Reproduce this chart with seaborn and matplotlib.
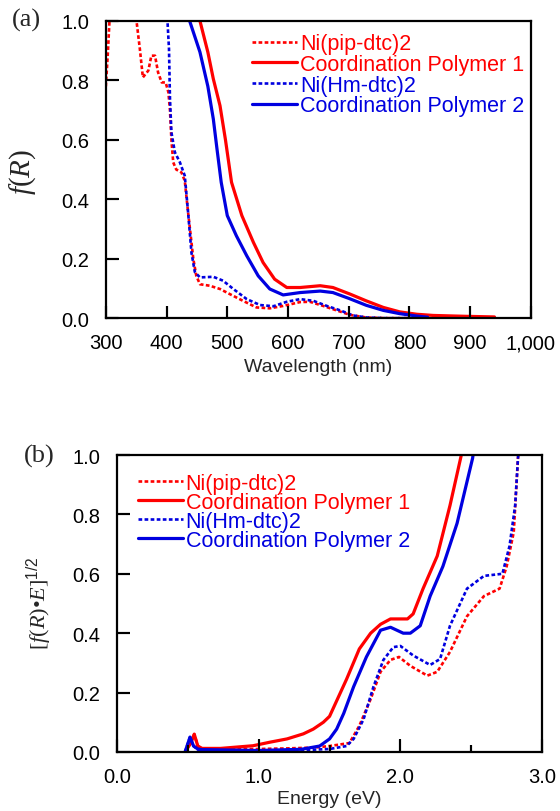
import matplotlib
matplotlib.use("Agg")
import matplotlib.pyplot as plt
from matplotlib.lines import Line2D
import seaborn as sns
import numpy as np

# ---------------- data: panel (a) ----------------
wl_pip = [300, 303, 306, 320, 340, 350.5, 356, 361, 370, 375, 381, 386, 392, 398.5, 403, 405.6, 408,
          411, 416, 424.6, 430, 435.5, 438, 444, 449, 455, 471, 488, 504, 526, 548, 570, 592, 620,
          636, 658, 680, 702, 729, 760, 800]
f_pip = [0.78, 0.88, 1.00, 1.30, 1.30, 1.00, 0.906, 0.81, 0.833, 0.883, 0.883, 0.827, 0.793, 0.793,
         0.76, 0.70, 0.60, 0.524, 0.50, 0.49, 0.462, 0.355, 0.31, 0.20, 0.142, 0.114, 0.109, 0.098,
         0.081, 0.058, 0.036, 0.033, 0.041, 0.054, 0.055, 0.041, 0.026, 0.011, 0.002, 0.0, 0.0]

wl_cp1 = [445, 455, 468, 477, 488, 497, 507, 524, 543, 559, 578, 598, 620, 653, 674, 702, 729, 757,
          784, 812, 839, 894, 940]
f_cp1 = [1.2, 1.0, 0.895, 0.805, 0.715, 0.60, 0.457, 0.345, 0.255, 0.187, 0.131, 0.103, 0.103, 0.109,
         0.103, 0.081, 0.058, 0.036, 0.021, 0.013, 0.009, 0.006, 0.004]

wl_hm = [395, 401.5, 404, 405.6, 408, 413.7, 422, 430, 435.5, 441, 446.6, 455, 477, 493, 510, 532,
         554, 576, 598, 620, 642, 664, 686, 707, 730, 760, 800]
f_hm = [1.5, 1.0, 0.906, 0.74, 0.625, 0.558, 0.524, 0.479, 0.355, 0.22, 0.155, 0.137, 0.139, 0.126,
        0.098, 0.064, 0.044, 0.04, 0.055, 0.064, 0.058, 0.041, 0.026, 0.009, 0.002, 0.0, 0.0]

wl_cp2 = [430, 438, 455, 468, 477, 483, 490, 500, 515, 532, 551, 570, 592, 620, 653, 674, 702, 729,
          757, 784, 812, 830]
f_cp2 = [1.2, 1.0, 0.895, 0.78, 0.67, 0.57, 0.457, 0.345, 0.277, 0.21, 0.142, 0.098, 0.078, 0.086,
         0.091, 0.086, 0.065, 0.043, 0.026, 0.015, 0.007, 0.003]

# ---------------- data: panel (b) ----------------
E_pip = [0.48, 0.52, 0.545, 0.57, 0.6, 0.8, 1.0, 1.2, 1.4, 1.5, 1.64, 1.71, 1.79, 1.86, 1.93, 1.99,
         2.07, 2.19, 2.26, 2.35, 2.47, 2.59, 2.70, 2.75, 2.80, 2.83, 2.85]
v_pip = [0.0, 0.03, 0.06, 0.02, 0.012, 0.01, 0.01, 0.012, 0.015, 0.02, 0.03, 0.088, 0.178, 0.27,
         0.31, 0.32, 0.29, 0.257, 0.27, 0.337, 0.457, 0.525, 0.55, 0.625, 0.74, 0.99, 1.1]

E_cp1 = [0.48, 0.52, 0.545, 0.57, 0.6, 0.73, 0.96, 1.08, 1.2, 1.315, 1.385, 1.456, 1.50, 1.62, 1.71,
         1.79, 1.86, 1.93, 2.05, 2.09, 2.16, 2.26, 2.35, 2.43, 2.46]
v_cp1 = [0.0, 0.03, 0.06, 0.02, 0.012, 0.012, 0.021, 0.033, 0.044, 0.061, 0.077, 0.10, 0.12, 0.245,
         0.347, 0.40, 0.43, 0.448, 0.448, 0.465, 0.55, 0.66, 0.83, 1.0, 1.1]

E_hm = [0.48, 0.515, 0.54, 0.57, 0.6, 1.0, 1.3, 1.5, 1.62, 1.67, 1.74, 1.81, 1.88, 1.95, 2.00, 2.09,
        2.21, 2.28, 2.35, 2.47, 2.59, 2.72, 2.77, 2.81, 2.83, 2.85]
v_hm = [0.0, 0.05, 0.02, 0.008, 0.006, 0.005, 0.006, 0.01, 0.02, 0.044, 0.11, 0.22, 0.31, 0.353,
        0.357, 0.325, 0.293, 0.313, 0.425, 0.55, 0.593, 0.60, 0.693, 0.83, 0.99, 1.1]

E_cp2 = [0.48, 0.515, 0.54, 0.57, 0.6, 0.73, 1.0, 1.3, 1.43, 1.50, 1.55, 1.60, 1.67, 1.76, 1.86, 1.93,
         2.02, 2.07, 2.14, 2.21, 2.30, 2.40, 2.51, 2.54]
v_cp2 = [0.0, 0.05, 0.02, 0.01, 0.008, 0.007, 0.005, 0.009, 0.02, 0.044, 0.077, 0.13, 0.22, 0.32,
         0.41, 0.42, 0.40, 0.40, 0.425, 0.525, 0.625, 0.77, 0.99, 1.1]

labels = ["Ni(pip-dtc)2", "Coordination Polymer 1", "Ni(Hm-dtc)2", "Coordination Polymer 2"]

xticks_a = [300, 400, 500, 600, 700, 800, 900, 1000]
xticklabels_a = ["300", "400", "500", "600", "700", "800", "900", "1,000"]
yticks = [0.0, 0.2, 0.4, 0.6, 0.8, 1.0]
yticklabels = ["0.0", "0.2", "0.4", "0.6", "0.8", "1.0"]
xticks_b = [0.0, 1.0, 2.0, 3.0]
xticklabels_b = ["0.0", "1.0", "2.0", "3.0"]
xminor_b = [0.5, 1.5, 2.5]

# ---------------- style ----------------
sns.set_style("ticks")
plt.rcParams.update({
    "font.family": ["Liberation Sans", "DejaVu Sans"],
    "mathtext.fontset": "custom",
    "mathtext.rm": "Liberation Serif",
    "mathtext.it": "Liberation Serif:italic",
    "mathtext.sf": "Liberation Sans",
    "xtick.direction": "in", "ytick.direction": "in",
    "xtick.major.size": 9, "ytick.major.size": 9,
    "xtick.minor.size": 5, "ytick.minor.size": 5,
    "xtick.major.width": 1.5, "ytick.major.width": 1.5,
    "xtick.minor.width": 1.5, "ytick.minor.width": 1.5,
    "xtick.color": "black", "ytick.color": "black",
    "xtick.major.pad": 11, "ytick.major.pad": 12,
    "xtick.labelsize": 14.5, "ytick.labelsize": 14.5,
    "axes.linewidth": 1.6, "axes.edgecolor": "black",
})

RED = "#ff0000"
BLUE = "#0000e0"
DOT = (0, (1.4, 0.9))
TICK_PX_MAJOR = 12.5
TICK_PX_MINOR = 7

fig = plt.figure(figsize=(5.6, 8.12), dpi=100)
ax1 = fig.add_axes([0.189, 0.607, 0.759, 0.366])
ax2 = fig.add_axes([0.209, 0.0727, 0.759, 0.3657])

def draw(ax, xs, ys):
    styles = [(RED, DOT, 1.9), (RED, "-", 2.3), (BLUE, DOT, 1.9), (BLUE, "-", 2.3)]
    for (x, y), lab, (c, ls, lw) in zip(zip(xs, ys), labels, styles):
        sns.lineplot(x=x, y=y, ax=ax, color=c, linestyle=ls, linewidth=lw, label=lab,
                     estimator=None, sort=False)

draw(ax1, [wl_pip, wl_cp1, wl_hm, wl_cp2], [f_pip, f_cp1, f_hm, f_cp2])
draw(ax2, [E_pip, E_cp1, E_hm, E_cp2], [v_pip, v_cp1, v_hm, v_cp2])

ax1.set_xlim(300, 1000)
ax1.set_xticks(xticks_a)
ax1.set_xticklabels(xticklabels_a)
ax1.set_xlabel("Wavelength (nm)", fontsize=14, labelpad=4)
ax1.set_ylabel(r"$f(R)$", fontsize=21)
ax1.yaxis.set_label_coords(-0.16, 0.495)

ax2.set_xlim(0, 3.0)
ax2.set_xticks(xticks_b)
ax2.set_xticklabels(xticklabels_b)
ax2.set_xticks(xminor_b, minor=True)
ax2.set_xlabel("Energy (eV)", fontsize=14, labelpad=3)
ax2.set_ylabel(r"$[f(R)$" + "\u2022" + r"$E]^{\mathsf{1/2}}$", fontsize=16,
               fontfamily="Liberation Serif")
ax2.yaxis.set_label_coords(-0.15, 0.505)

for ax in (ax1, ax2):
    ax.set_ylim(0, 1.0)
    ax.set_yticks(yticks)
    ax.set_yticklabels(yticklabels)
    ax.tick_params(axis="both", which="both", direction="in", bottom=True, left=True,
                   top=False, right=False, color="black", width=1.5)
    ax.tick_params(axis="both", which="major", length=9)

ax2.tick_params(axis="x", which="minor", length=5)


def figure_level_ticks(ax, xt, yt, xminor=()):
    """Inward tick marks placed from the tick arrays through the axes' own scale,
    drawn on the figure so nothing inside the axes can hide them."""
    to_fig = ax.transData + fig.transFigure.inverted()
    y0 = ax.get_ylim()[0]
    x0 = ax.get_xlim()[0]
    fh = fig.get_figheight() * fig.dpi
    fw = fig.get_figwidth() * fig.dpi
    for xs, L in ((xt, TICK_PX_MAJOR), (xminor, TICK_PX_MINOR)):
        for xv in xs:
            fx, fy = to_fig.transform((xv, y0))
            fig.add_artist(Line2D([fx, fx], [fy, fy + L / fh], transform=fig.transFigure,
                                  color="black", linewidth=1.5, zorder=20,
                                  solid_capstyle="butt"))
    for yv in yt:
        fx, fy = to_fig.transform((x0, yv))
        fig.add_artist(Line2D([fx, fx + TICK_PX_MAJOR / fw], [fy, fy], transform=fig.transFigure,
                              color="black", linewidth=1.5, zorder=20, solid_capstyle="butt"))


figure_level_ticks(ax1, xticks_a, yticks)
figure_level_ticks(ax2, xticks_b, yticks, xminor_b)

ax1.legend(bbox_to_anchor=(0.344, 0.958), loc="upper left", frameon=False, labelcolor="linecolor",
           handlelength=2.1, handletextpad=0.12, labelspacing=-0.02, borderpad=0,
           borderaxespad=0, fontsize=15.5)
ax2.legend(bbox_to_anchor=(0.049, 0.940), loc="upper left", frameon=False, labelcolor="linecolor",
           handlelength=2.1, handletextpad=0.12, labelspacing=-0.09, borderpad=0,
           borderaxespad=0, fontsize=15.5)

fig.text(12 / 560, 1 - 20 / 812, "(a)", family="Liberation Serif", fontsize=19, va="center", ha="left")
fig.text(24 / 560, 1 - 456 / 812, "(b)", family="Liberation Serif", fontsize=19, va="center", ha="left")

fig.savefig("out.png", dpi=100)
